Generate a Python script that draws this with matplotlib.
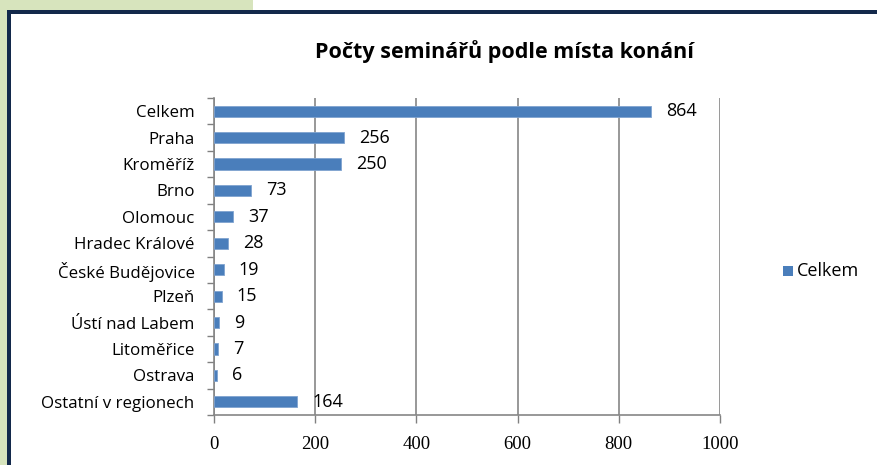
import matplotlib
matplotlib.use("Agg")
import matplotlib.pyplot as plt
from matplotlib.patches import Rectangle

categories = ["Celkem", "Praha", "Kroměříž", "Brno", "Olomouc", "Hradec Králové",
              "České Budějovice", "Plzeň", "Ústí nad Labem", "Litoměřice", "Ostrava",
              "Ostatní v regionech"]
values = [864, 256, 250, 73, 37, 28, 19, 15, 9, 7, 6, 164]
xticks = [0, 200, 400, 600, 800, 1000]
title = "Počty seminářů podle místa konání"
series_name = "Celkem"

W, H = 877, 465
fig = plt.figure(figsize=(W / 100, H / 100), dpi=100)
fig.patch.set_facecolor("white")

# decorative frame
fig.add_artist(Rectangle((0, 1 - 11 / H), 253 / W, 11 / H, transform=fig.transFigure,
                         facecolor="#d7e4bd", edgecolor="none", zorder=0))
fig.add_artist(Rectangle((0, 0), 8 / W, 1 - 11 / H, transform=fig.transFigure,
                         facecolor="#d7e4bd", edgecolor="none", zorder=0))
fig.add_artist(Rectangle((7 / W, 1 - 14 / H), 1 - 7 / W, 4 / H, transform=fig.transFigure,
                         facecolor="#13294b", edgecolor="none", zorder=5))
fig.add_artist(Rectangle((7 / W, 0), 4 / W, 1 - 10 / H, transform=fig.transFigure,
                         facecolor="#13294b", edgecolor="none", zorder=5))

ax = fig.add_axes([214 / W, 1 - 415 / H, (720 - 214) / W, (415 - 98) / H])
n = len(categories)
ypos = list(range(n))
ax.barh(ypos, values, height=0.42, color="#4a7ebb", edgecolor="#7fa3d0",
        linewidth=0.6, zorder=3, label=series_name)
ax.set_ylim(n - 0.5, -0.5)
ax.set_xlim(0, 1000)
ax.set_yticks(ypos)
ax.set_yticklabels(categories, fontfamily="Open Sans", fontsize=12.2)
ax.set_yticks([i - 0.5 for i in range(n + 1)], minor=True)
ax.tick_params(axis="y", which="major", length=0, pad=14)
ax.tick_params(axis="y", which="minor", length=5, color="#808080", width=1)
ax.set_xticks(xticks)
ax.set_xticklabels([str(t) for t in xticks], fontfamily="Liberation Serif", fontsize=13.5)
ax.tick_params(axis="x", length=6, color="#808080", width=1, pad=9)
ax.grid(axis="x", color="#868686", linewidth=1.2, zorder=0)
for s in ["top", "right"]:
    ax.spines[s].set_visible(False)
for s in ["left", "bottom"]:
    ax.spines[s].set_color("#868686")
    ax.spines[s].set_linewidth(1.2)

for y, v in zip(ypos, values):
    ax.annotate(str(v), (v, y), xytext=(11, 0), textcoords="offset points",
                va="center", ha="left", fontfamily="Open Sans", fontsize=13)

fig.text(504 / W, 1 - 52 / H, title, ha="center", va="center",
         fontfamily="Open Sans", fontweight="bold", fontsize=15.5)

fig.add_artist(Rectangle((783 / W, 1 - 276 / H), 10 / W, 10 / H, transform=fig.transFigure,
                         facecolor="#4a7ebb", edgecolor="none"))
fig.text(797 / W, 1 - 271 / H, series_name, ha="left", va="center",
         fontfamily="Open Sans", fontsize=13)

fig.savefig("out.png", dpi=100)
